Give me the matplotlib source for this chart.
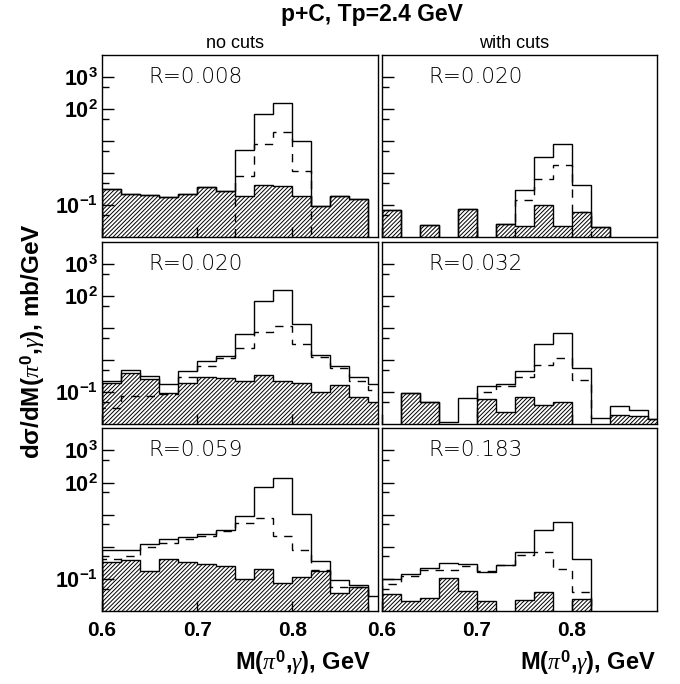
import numpy as np
import matplotlib
matplotlib.use("Agg")
from matplotlib import pyplot as plt
from matplotlib.ticker import FixedLocator, FixedFormatter, NullFormatter

# bin edges of the M(pi0, gamma) histograms, GeV
edges = np.round(np.arange(0.60, 0.901, 0.02), 2)

# values in mb/GeV, one entry per 0.02 GeV bin (0 = empty bin)
# row 1
total_nocut_1 = [0.32, 0.23, 0.205, 0.174, 0.226, 0.365, 0.267, 5.4, 71, 160, 10.5, 0.095, 0.187, 0.154, 0]
dashed_nocut_1 = [0, 0, 0, 0, 0, 0, 0, 0.83, 8.3, 19, 1.15, 0, 0, 0, 0]
backgr_nocut_1 = [0.32, 0.23, 0.205, 0.174, 0.226, 0.365, 0.267, 0.187, 0.41, 0.383, 0.187, 0.095, 0.187, 0.154, 0]
total_cut_1 = [0.072, 0, 0.024, 0, 0.075, 0, 0.0255, 0.29, 3.1, 7.9, 0.41, 0.02, 0, 0, 0]
dashed_cut_1 = [0, 0, 0, 0, 0, 0, 0, 0.14, 0.67, 1.8, 0.062, 0, 0, 0, 0]
backgr_cut_1 = [0.072, 0, 0.024, 0, 0.075, 0, 0.0255, 0.0226, 0.1, 0.0226, 0.062, 0.02, 0, 0, 0]
# row 2
total_nocut_2 = [0.226, 0.475, 0.316, 0.174, 0.453, 0.95, 1.33, 6.8, 71, 154, 13.3, 1.4, 0.65, 0.30, 0.174]
dashed_nocut_2 = [0.032, 0.077, 0.077, 0.087, 0.29, 0.665, 1.18, 2.43, 7.7, 11.5, 3.16, 1.27, 0.55, 0.226, 0.12]
backgr_nocut_2 = [0.187, 0.383, 0.249, 0.091, 0.187, 0.301, 0.267, 0.226, 0.332, 0.216, 0.187, 0.1, 0.166, 0.072, 0.05]
total_cut_2 = [0, 0.091, 0.0475, 0.0115, 0.063, 0.158, 0.178, 0.453, 3.3, 7.2, 0.575, 0.015, 0.0365, 0.0274, 0.014]
dashed_cut_2 = [0, 0, 0, 0, 0, 0.098, 0.158, 0.288, 0.71, 1.15, 0.237, 0, 0, 0, 0]
backgr_cut_2 = [0, 0.091, 0.0475, 0, 0, 0.059, 0.023, 0.068, 0.039, 0.0487, 0, 0, 0.019, 0.0178, 0.014]
# row 3
total_nocut_3 = [0.80, 0.787, 1.21, 1.78, 2.05, 2.49, 3.32, 9.3, 71, 143, 10.2, 0.365, 0.091, 0.063, 0.0295]
dashed_nocut_3 = [0.42, 0.51, 1.0, 1.27, 1.7, 2.15, 3.09, 5.36, 7.7, 2.2, 0.787, 0.196, 0.056, 0.056, 0]
backgr_nocut_3 = [0.332, 0.383, 0.174, 0.42, 0.332, 0.29, 0.249, 0.102, 0.205, 0.077, 0.115, 0.178, 0.037, 0.056, 0]
total_cut_3 = [0.1, 0.14, 0.216, 0.316, 0.3, 0.166, 0.267, 0.68, 3.24, 6.04, 0.42, 0, 0, 0, 0]
dashed_cut_3 = [0.068, 0.127, 0.187, 0.196, 0.257, 0.178, 0.267, 0.55, 0.7, 0.2, 0.038, 0, 0, 0, 0]
backgr_cut_3 = [0.033, 0.02, 0.0255, 0.11, 0.042, 0.02, 0, 0.0214, 0.038, 0, 0.023, 0, 0, 0, 0]

r_nocut = ["R=0.008", "R=0.020", "R=0.059"]
r_cut = ["R=0.020", "R=0.032", "R=0.183"]

y_ticks = [1e3, 1e2, 1e1, 1e0, 1e-1]
y_tick_labels = [r"$\mathbf{10^{3}}$", r"$\mathbf{10^{2}}$", "", "", r"$\mathbf{10^{-1}}$"]
y_minor = [500, 50, 5, 0.5, 0.05]
x_ticks = [0.6, 0.7, 0.8]
x_tick_labels = ["0.6", "0.7", "0.8"]

FLOOR = 1e-5


def plot_panel(ax, total, dashed, backgr, r_text, left_labels, bottom_labels):
    '''
    Draws one histogram panel: hatched background, dashed and solid spectra.
    '''
    def lift(v):
        v = np.asarray(v, dtype=float)
        return np.where(v > 0, v, FLOOR)

    ax.stairs(lift(backgr), edges, baseline=FLOOR, fill=True, facecolor="none",
              edgecolor="black", hatch="////////", linewidth=1.0)
    ax.stairs(lift(dashed), edges, baseline=FLOOR, color="black",
              linewidth=1.0, linestyle=(0, (6, 5)))
    ax.stairs(lift(total), edges, baseline=FLOOR, color="black", linewidth=1.0)

    ax.set_yscale("log")
    ax.set_ylim(1e-2, 5000)
    ax.set_xlim(0.6, 0.89)

    ax.yaxis.set_major_locator(FixedLocator(y_ticks))
    ax.yaxis.set_minor_locator(FixedLocator(y_minor))
    ax.yaxis.set_minor_formatter(NullFormatter())
    if left_labels:
        ax.yaxis.set_major_formatter(FixedFormatter(y_tick_labels))
    else:
        ax.yaxis.set_major_formatter(NullFormatter())

    ax.xaxis.set_major_locator(FixedLocator(x_ticks))
    if bottom_labels:
        ax.xaxis.set_major_formatter(FixedFormatter(x_tick_labels))
    else:
        ax.xaxis.set_major_formatter(NullFormatter())

    ax.tick_params(axis="both", which="both", direction="in", top=False, right=False, width=1.0)
    ax.tick_params(axis="y", which="major", length=8.5, pad=3, labelsize=15.5)
    ax.tick_params(axis="y", which="minor", length=5)
    ax.tick_params(axis="x", which="major", length=7, pad=7, labelsize=15)
    for lab in ax.get_xticklabels():
        lab.set_fontweight("bold")
    for sp in ax.spines.values():
        sp.set_linewidth(1.0)

    ax.text(0.167, 0.88, r_text, transform=ax.transAxes, fontsize=15.5,
            ha="left", va="center", family="DejaVu Sans", fontweight="light")


if __name__ == "__main__":
    plt.rcParams["font.family"] = ["Liberation Sans", "DejaVu Sans"]
    plt.rcParams["mathtext.fontset"] = "custom"
    plt.rcParams["mathtext.rm"] = "Liberation Sans"
    plt.rcParams["mathtext.bf"] = "Liberation Sans:bold"
    plt.rcParams["mathtext.it"] = "Liberation Serif:italic"
    plt.rcParams["hatch.linewidth"] = 0.7

    fig = plt.figure(figsize=(6.8, 6.84), dpi=100)

    W, H = 680.0, 684.0
    cols = [(102, 276), (382, 275)]
    rows = [(55, 182), (242, 182), (428, 183)]

    nocut = [(total_nocut_1, dashed_nocut_1, backgr_nocut_1),
             (total_nocut_2, dashed_nocut_2, backgr_nocut_2),
             (total_nocut_3, dashed_nocut_3, backgr_nocut_3)]
    cut = [(total_cut_1, dashed_cut_1, backgr_cut_1),
           (total_cut_2, dashed_cut_2, backgr_cut_2),
           (total_cut_3, dashed_cut_3, backgr_cut_3)]

    for i, (top, h) in enumerate(rows):
        for j, (left, w) in enumerate(cols):
            ax = fig.add_axes([left / W, 1 - (top + h) / H, w / W, h / H])
            data = nocut[i] if j == 0 else cut[i]
            r_text = r_nocut[i] if j == 0 else r_cut[i]
            plot_panel(ax, *data, r_text, left_labels=(j == 0), bottom_labels=(i == 2))

    fig.text(372 / W, 1 - 15 / H, "p+C, Tp=2.4 GeV", ha="center", va="center",
             fontsize=16.5, fontweight="bold")
    fig.text(235 / W, 1 - 43 / H, "no cuts", ha="center", va="center", fontsize=13)
    fig.text(514 / W, 1 - 43 / H, "with cuts", ha="center", va="center", fontsize=13)

    fig.text(33 / W, 1 - 341 / H, r"d$\mathbf{\sigma}$/dM($\pi^{\mathbf{0}}$,$\gamma$), mb/GeV",
             rotation=90, ha="center", va="center", fontsize=17.5, fontweight="bold")
    xlabel = r"M($\pi^{\mathbf{0}}$,$\gamma$), GeV"
    fig.text(371 / W, 1 - 663 / H, xlabel, ha="right", va="center", fontsize=17, fontweight="bold")
    fig.text(656 / W, 1 - 663 / H, xlabel, ha="right", va="center", fontsize=17, fontweight="bold")

    fig.savefig("out.png", dpi=100)
